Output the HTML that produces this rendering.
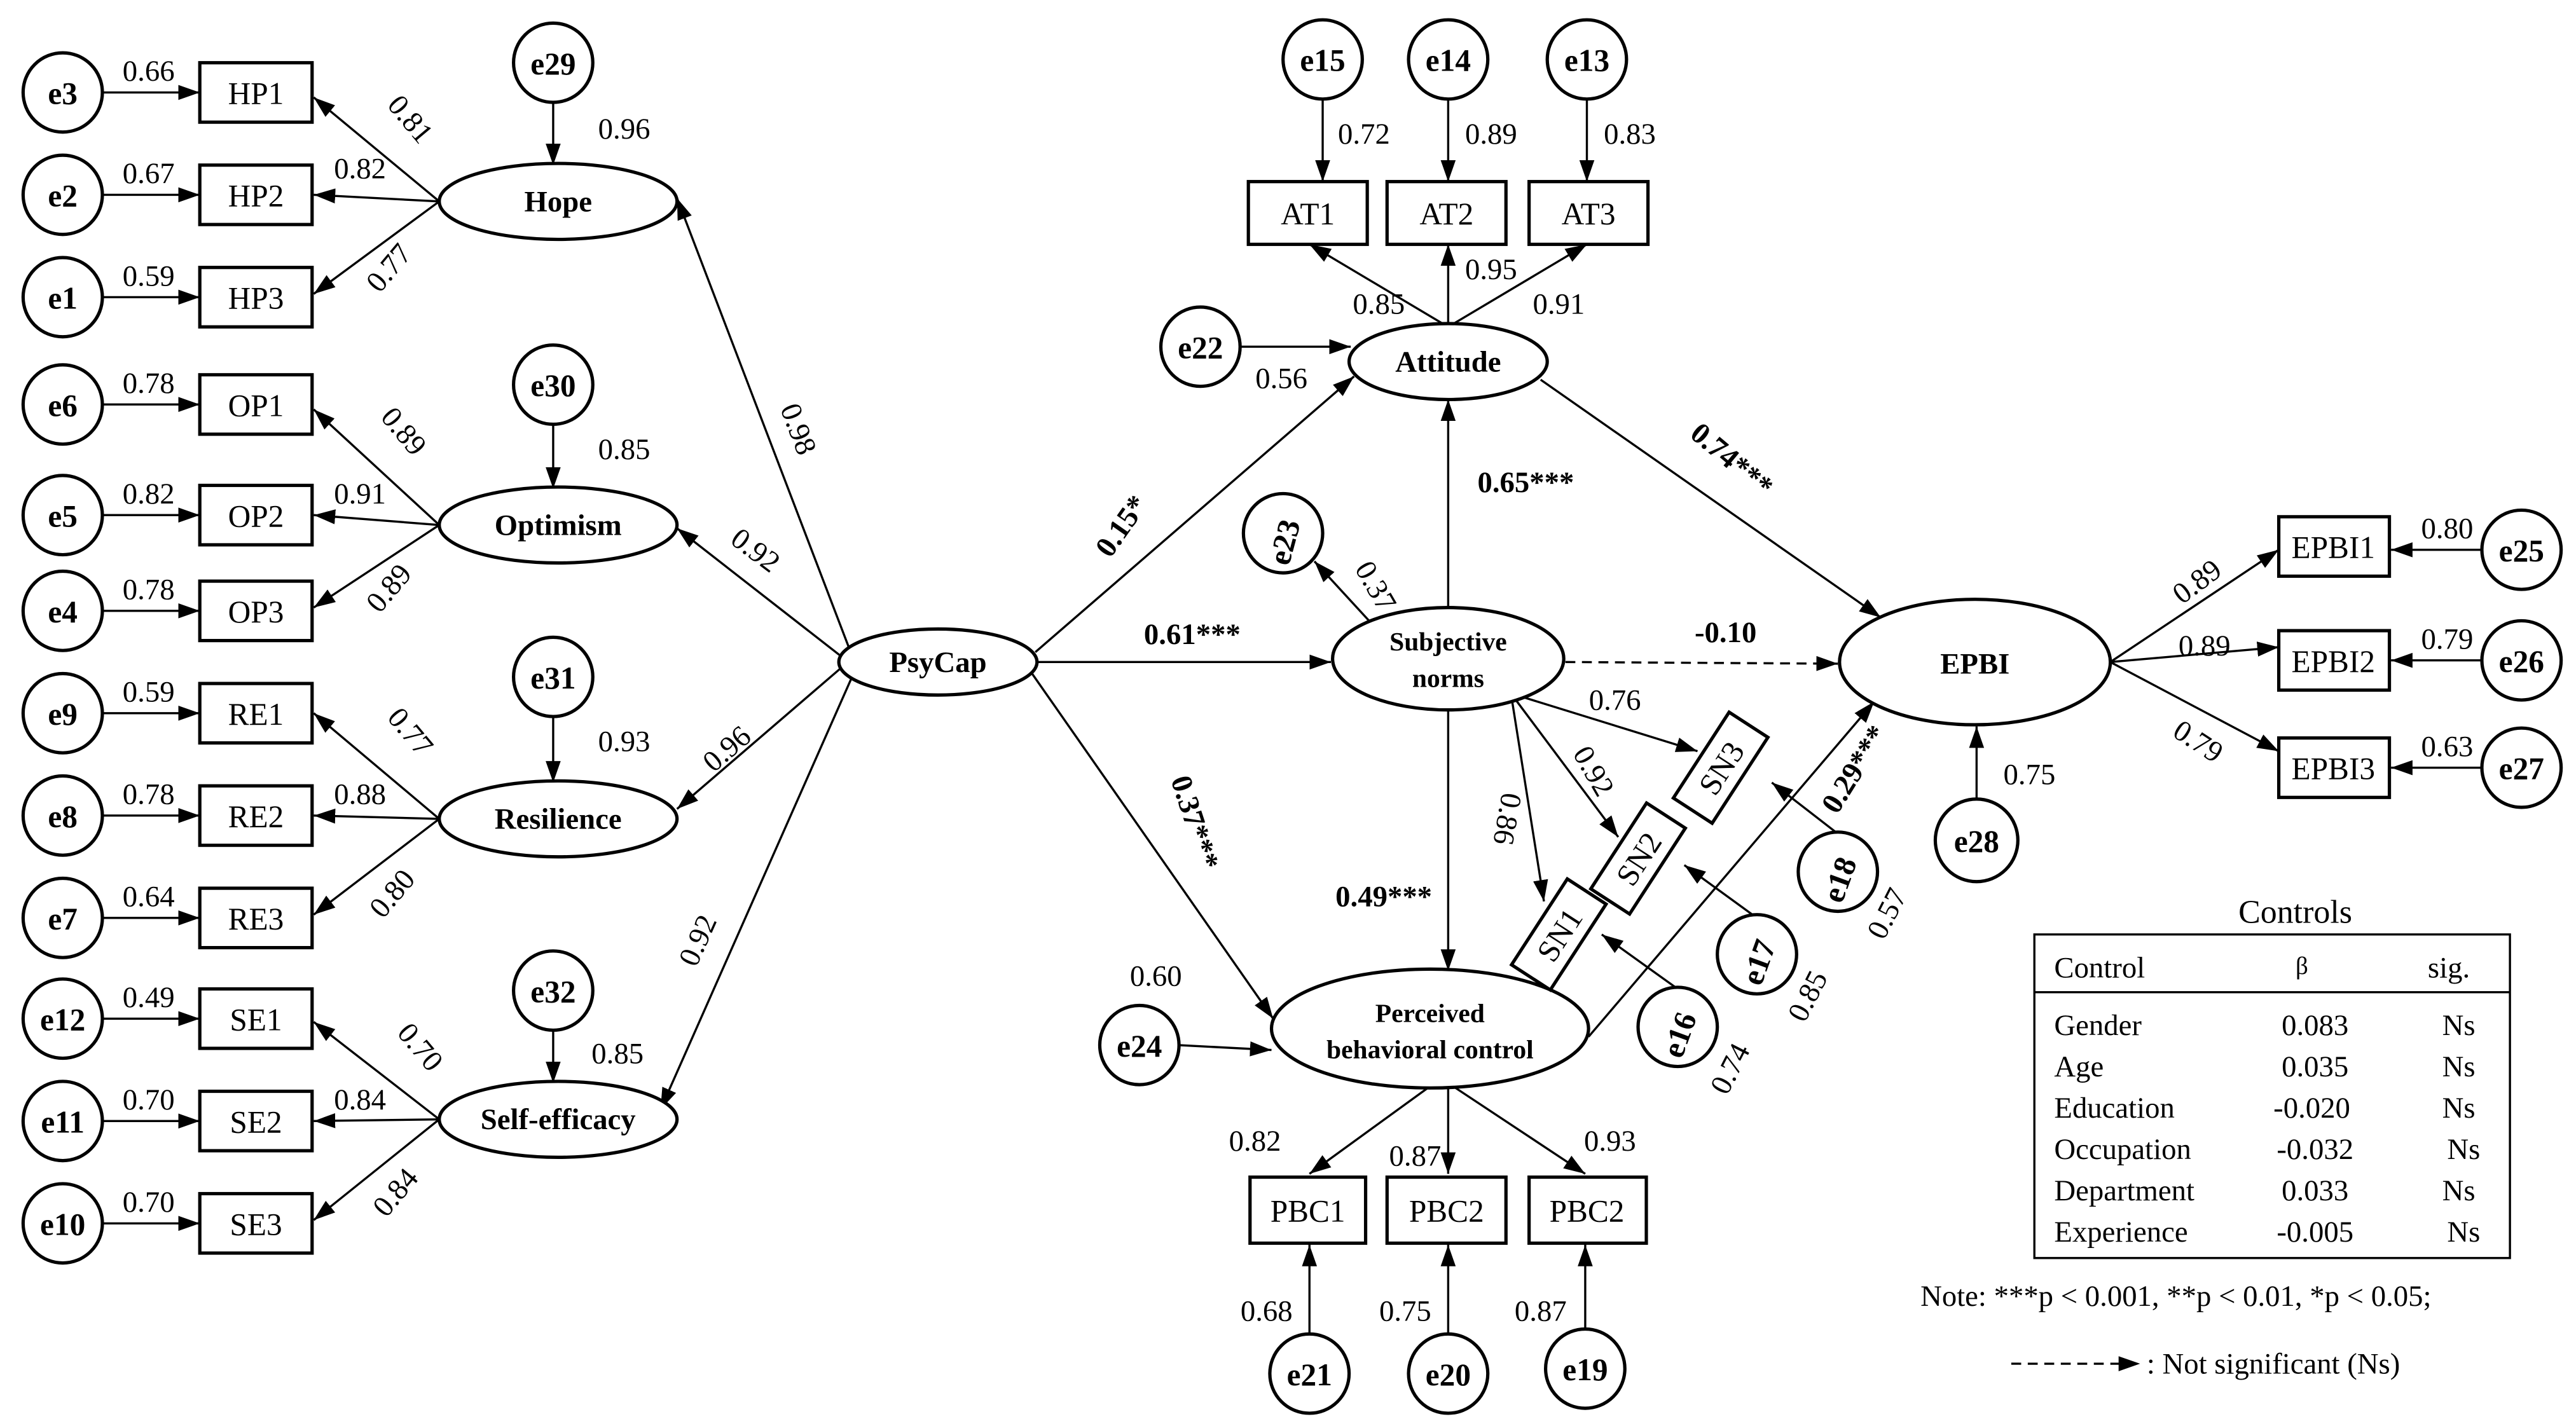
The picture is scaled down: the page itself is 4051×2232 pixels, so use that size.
<!DOCTYPE html>
<html><head><meta charset="utf-8"><style>
html,body{margin:0;padding:0;background:#fff;}
svg{display:block;}
text{font-family:"Liberation Serif",serif;fill:#000;}
</style></head><body>
<svg width="4051" height="2232" viewBox="0 0 1560 859.5" preserveAspectRatio="none" xmlns="http://www.w3.org/2000/svg">
<defs>
<marker id="A" viewBox="0 0 10 10" refX="10" refY="5" markerWidth="13" markerHeight="13" markerUnits="userSpaceOnUse" orient="auto"><path d="M0,1.5 L10,5 L0,8.5 z" fill="#000"/></marker>
</defs>
<rect width="1560" height="860" fill="#fff"/>
<g fill="none" stroke="#000" stroke-width="1.3" marker-end="url(#A)">
<line x1="62" y1="56" x2="121" y2="56"/><line x1="62" y1="118" x2="121" y2="118"/><line x1="62" y1="180" x2="121" y2="180"/>
<line x1="62" y1="245" x2="121" y2="245"/><line x1="62" y1="312" x2="121" y2="312"/><line x1="62" y1="370" x2="121" y2="370"/>
<line x1="62" y1="432" x2="121" y2="432"/><line x1="62" y1="494" x2="121" y2="494"/><line x1="62" y1="556" x2="121" y2="556"/>
<line x1="62" y1="617" x2="121" y2="617"/><line x1="62" y1="679" x2="121" y2="679"/><line x1="62" y1="741" x2="121" y2="741"/>
<line x1="266" y1="122" x2="190" y2="59"/><line x1="266" y1="122" x2="190" y2="118"/><line x1="266" y1="122" x2="190" y2="178"/>
<line x1="266" y1="318" x2="190" y2="248"/><line x1="266" y1="318" x2="190" y2="312"/><line x1="266" y1="318" x2="190" y2="368"/>
<line x1="266" y1="496" x2="190" y2="432"/><line x1="266" y1="496" x2="190" y2="494"/><line x1="266" y1="496" x2="190" y2="554"/>
<line x1="266" y1="678" x2="190" y2="619"/><line x1="266" y1="678" x2="190" y2="679"/><line x1="266" y1="678" x2="190" y2="739"/>
<line x1="335" y1="62" x2="335" y2="100"/><line x1="335" y1="257" x2="335" y2="296"/><line x1="335" y1="434" x2="335" y2="474"/><line x1="335" y1="624" x2="335" y2="656"/>
<line x1="514" y1="392" x2="410" y2="120"/><line x1="510" y1="398" x2="410" y2="320"/><line x1="510" y1="404" x2="410" y2="490"/><line x1="516" y1="410" x2="400" y2="672"/>
<line x1="627" y1="395" x2="820" y2="228"/><line x1="628" y1="401" x2="806" y2="401"/><line x1="625" y1="408" x2="771" y2="617"/>
<line x1="877" y1="198" x2="793" y2="148"/><line x1="877" y1="198" x2="877" y2="148"/><line x1="877" y1="198" x2="961" y2="148"/>
<line x1="801" y1="60" x2="801" y2="110"/><line x1="877" y1="60" x2="877" y2="110"/><line x1="961" y1="60" x2="961" y2="110"/>
<line x1="751" y1="210" x2="818" y2="210"/>
<line x1="877" y1="369" x2="877" y2="242"/>
<line x1="830" y1="377" x2="796" y2="340"/>
<line x1="933" y1="230" x2="1139" y2="374"/>
<line x1="877" y1="429" x2="877" y2="588"/>
<line x1="915" y1="420" x2="935" y2="546"/><line x1="915" y1="420" x2="980" y2="507"/><line x1="915" y1="420" x2="1028" y2="455"/>
<line x1="1113" y1="505" x2="1073" y2="474"/><line x1="1064" y1="556" x2="1020" y2="524"/><line x1="1016" y1="599" x2="970" y2="566"/>
<line x1="962" y1="628" x2="1135" y2="425"/>
<line x1="713" y1="633" x2="770" y2="636"/>
<line x1="866" y1="658" x2="793" y2="711"/><line x1="877" y1="658" x2="877" y2="711"/><line x1="880" y1="658" x2="960" y2="711"/>
<line x1="793" y1="808" x2="793" y2="754"/><line x1="877" y1="808" x2="877" y2="754"/><line x1="960" y1="805" x2="960" y2="754"/>
<line x1="1278" y1="401" x2="1380" y2="333"/><line x1="1278" y1="401" x2="1380" y2="392"/><line x1="1278" y1="401" x2="1380" y2="455"/>
<line x1="1504" y1="333" x2="1448" y2="333"/><line x1="1504" y1="400" x2="1448" y2="400"/><line x1="1504" y1="465" x2="1448" y2="465"/>
<line x1="1197" y1="485" x2="1197" y2="440"/>
<line x1="948" y1="401" x2="1113" y2="402" stroke-dasharray="6,4"/>
<line x1="1218" y1="826" x2="1296" y2="826" stroke-dasharray="6,4"/>
</g>
<g fill="#fff" stroke="#000" stroke-width="2">
<circle cx="38" cy="56" r="24"/><circle cx="38" cy="118" r="24"/><circle cx="38" cy="180" r="24"/>
<circle cx="38" cy="245" r="24"/><circle cx="38" cy="312" r="24"/><circle cx="38" cy="370" r="24"/>
<circle cx="38" cy="432" r="24"/><circle cx="38" cy="494" r="24"/><circle cx="38" cy="556" r="24"/>
<circle cx="38" cy="617" r="24"/><circle cx="38" cy="679" r="24"/><circle cx="38" cy="741" r="24"/>
<rect x="121" y="38" width="68" height="36"/><rect x="121" y="100" width="68" height="36"/><rect x="121" y="162" width="68" height="36"/>
<rect x="121" y="227" width="68" height="36"/><rect x="121" y="294" width="68" height="36"/><rect x="121" y="352" width="68" height="36"/>
<rect x="121" y="414" width="68" height="36"/><rect x="121" y="476" width="68" height="36"/><rect x="121" y="538" width="68" height="36"/>
<rect x="121" y="599" width="68" height="36"/><rect x="121" y="661" width="68" height="36"/><rect x="121" y="723" width="68" height="36"/>
<circle cx="335" cy="38" r="24"/><circle cx="335" cy="233" r="24"/><circle cx="335" cy="410" r="24"/><circle cx="335" cy="600" r="24"/>
<ellipse cx="338" cy="122" rx="72" ry="23"/><ellipse cx="338" cy="318" rx="72" ry="23"/><ellipse cx="338" cy="496" rx="72" ry="23"/><ellipse cx="338" cy="678" rx="72" ry="23"/>
<ellipse cx="568" cy="401" rx="60" ry="20"/>
<circle cx="801" cy="36" r="24"/><circle cx="877" cy="36" r="24"/><circle cx="961" cy="36" r="24"/>
<rect x="756" y="110" width="72" height="38"/><rect x="840" y="110" width="72" height="38"/><rect x="926" y="110" width="72" height="38"/>
<circle cx="727" cy="210" r="24"/>
<ellipse cx="877" cy="219" rx="60" ry="23"/>
<circle cx="777" cy="323" r="24"/>
<ellipse cx="877" cy="399" rx="70" ry="31"/>
<ellipse cx="866" cy="623" rx="96" ry="36"/>
<circle cx="690" cy="633" r="24"/>
<rect x="757" y="713" width="70" height="40"/><rect x="840" y="713" width="72" height="40"/><rect x="926" y="713" width="71" height="40"/>
<circle cx="793" cy="832" r="24"/><circle cx="877" cy="832" r="24"/><circle cx="960" cy="829" r="24"/>
<ellipse cx="1196" cy="401" rx="82" ry="38"/>
<rect x="1380" y="313" width="67" height="36"/><rect x="1380" y="382" width="67" height="36"/><rect x="1380" y="447" width="67" height="36"/>
<circle cx="1527" cy="333" r="24"/><circle cx="1527" cy="400" r="24"/><circle cx="1527" cy="465" r="24"/>
<circle cx="1197" cy="509" r="25"/>
<g transform="translate(1042,465) rotate(-57)"><rect x="-31" y="-14" width="62" height="28"/></g>
<g transform="translate(992,520) rotate(-57)"><rect x="-31" y="-14" width="62" height="28"/></g>
<g transform="translate(944,566) rotate(-57)"><rect x="-31" y="-14" width="62" height="28"/></g>
<circle cx="1113" cy="528" r="24"/><circle cx="1064" cy="578" r="24"/><circle cx="1016" cy="622" r="24"/>
</g>
<g font-size="19" text-anchor="middle" font-weight="bold">
<text x="38" y="63">e3</text><text x="38" y="125">e2</text><text x="38" y="187">e1</text>
<text x="38" y="252">e6</text><text x="38" y="319">e5</text><text x="38" y="377">e4</text>
<text x="38" y="439">e9</text><text x="38" y="501">e8</text><text x="38" y="563">e7</text>
<text x="38" y="624">e12</text><text x="38" y="686">e11</text><text x="38" y="748">e10</text>
<text x="335" y="45">e29</text><text x="335" y="240">e30</text><text x="335" y="417">e31</text><text x="335" y="607">e32</text>
<text x="801" y="43">e15</text><text x="877" y="43">e14</text><text x="961" y="43">e13</text>
<text x="727" y="217">e22</text><text x="690" y="640">e24</text>
<text x="793" y="839">e21</text><text x="877" y="839">e20</text><text x="960" y="836">e19</text>
<text x="1527" y="340">e25</text><text x="1527" y="407">e26</text><text x="1527" y="472">e27</text><text x="1197" y="516">e28</text>
<text transform="translate(784,330) rotate(-75)">e23</text>
<text transform="translate(1120,535) rotate(-70)">e18</text>
<text transform="translate(1071,585) rotate(-70)">e17</text>
<text transform="translate(1023,629) rotate(-70)">e16</text>
</g>
<g font-size="18" text-anchor="middle" font-weight="bold">
<text x="338" y="128">Hope</text><text x="338" y="324">Optimism</text><text x="338" y="502">Resilience</text><text x="338" y="684">Self-efficacy</text>
<text x="568" y="407">PsyCap</text><text x="877" y="225">Attitude</text>
<text x="877" y="394" font-size="16">Subjective</text><text x="877" y="416" font-size="16">norms</text>
<text x="866" y="619" font-size="16">Perceived</text><text x="866" y="641" font-size="16">behavioral control</text>
<text x="1196" y="408">EPBI</text>
</g>
<g font-size="19" text-anchor="middle">
<text x="155" y="63">HP1</text><text x="155" y="125">HP2</text><text x="155" y="187">HP3</text>
<text x="155" y="252">OP1</text><text x="155" y="319">OP2</text><text x="155" y="377">OP3</text>
<text x="155" y="439">RE1</text><text x="155" y="501">RE2</text><text x="155" y="563">RE3</text>
<text x="155" y="624">SE1</text><text x="155" y="686">SE2</text><text x="155" y="748">SE3</text>
<text x="792" y="136">AT1</text><text x="876" y="136">AT2</text><text x="962" y="136">AT3</text>
<text x="792" y="740">PBC1</text><text x="876" y="740">PBC2</text><text x="961" y="740">PBC2</text>
<text x="1413" y="338">EPBI1</text><text x="1413" y="407">EPBI2</text><text x="1413" y="472">EPBI3</text>
<text transform="translate(1042,465) rotate(-57)" y="7">SN3</text>
<text transform="translate(992,520) rotate(-57)" y="7">SN2</text>
<text transform="translate(944,566) rotate(-57)" y="7">SN1</text>
</g>
<g font-size="18" text-anchor="middle">
<text x="90" y="49">0.66</text><text x="90" y="111">0.67</text><text x="90" y="173">0.59</text>
<text x="90" y="238">0.78</text><text x="90" y="305">0.82</text><text x="90" y="363">0.78</text>
<text x="90" y="425">0.59</text><text x="90" y="487">0.78</text><text x="90" y="549">0.64</text>
<text x="90" y="610">0.49</text><text x="90" y="672">0.70</text><text x="90" y="734">0.70</text>
<text transform="translate(244,76) rotate(50)">0.81</text><text x="218" y="108">0.82</text><text transform="translate(240,166) rotate(-50)">0.77</text>
<text transform="translate(240,265) rotate(50)">0.89</text><text x="218" y="305">0.91</text><text transform="translate(240,360) rotate(-50)">0.89</text>
<text transform="translate(244,447) rotate(50)">0.77</text><text x="218" y="487">0.88</text><text transform="translate(242,545) rotate(-50)">0.80</text>
<text transform="translate(250,638) rotate(50)">0.70</text><text x="218" y="672">0.84</text><text transform="translate(244,726) rotate(-50)">0.84</text>
<text x="378" y="84">0.96</text><text x="378" y="278">0.85</text><text x="378" y="455">0.93</text><text x="374" y="644">0.85</text>
<text transform="translate(478,262) rotate(69)">0.98</text>
<text transform="translate(454,338) rotate(37)">0.92</text>
<text transform="translate(444,458) rotate(-41)">0.96</text>
<text transform="translate(428,572) rotate(-66)">0.92</text>
<text x="826" y="87">0.72</text><text x="903" y="87">0.89</text><text x="987" y="87">0.83</text>
<text x="835" y="190">0.85</text><text x="903" y="169">0.95</text><text x="944" y="190">0.91</text>
<text x="776" y="235">0.56</text>
<text transform="translate(828,358) rotate(60)">0.37</text>
<text x="978" y="430">0.76</text>
<text transform="translate(960,470) rotate(60)">0.92</text>
<text transform="translate(907,495) rotate(100)">0.86</text>
<text transform="translate(1148,556) rotate(-63)">0.57</text>
<text transform="translate(1100,606) rotate(-63)">0.85</text>
<text transform="translate(1053,650) rotate(-63)">0.74</text>
<text x="700" y="597">0.60</text>
<text x="760" y="697">0.82</text><text x="857" y="706">0.87</text><text x="975" y="697">0.93</text>
<text x="767" y="800">0.68</text><text x="851" y="800">0.75</text><text x="933" y="800">0.87</text>
<text x="1229" y="475">0.75</text>
<text transform="translate(1334,357) rotate(-37)">0.89</text>
<text x="1335" y="397">0.89</text>
<text transform="translate(1328,454) rotate(33)">0.79</text>
<text x="1482" y="326">0.80</text><text x="1482" y="393">0.79</text><text x="1482" y="458">0.63</text>
</g>
<g font-size="18" text-anchor="middle" font-weight="bold">
<text transform="translate(684,322) rotate(-55)">0.15*</text>
<text x="722" y="390">0.61***</text>
<text x="924" y="298">0.65***</text>
<text transform="translate(1045,283) rotate(40)">0.74***</text>
<text x="1045" y="389">-0.10</text>
<text transform="translate(718,500) rotate(72)">0.37***</text>
<text x="838" y="549">0.49***</text>
<text transform="translate(1128,469) rotate(-58)">0.29***</text>
</g>
<text x="1390" y="559" font-size="20" text-anchor="middle">Controls</text>
<rect x="1232" y="566" width="288" height="196" fill="none" stroke="#000" stroke-width="1.3"/>
<line x1="1232" y1="601" x2="1520" y2="601" stroke="#000" stroke-width="1.3"/>
<g font-size="18">
<text x="1244" y="592">Control</text><text x="1394" y="590" text-anchor="middle" font-size="15">β</text><text x="1483" y="592" text-anchor="middle">sig.</text>
<text x="1244" y="627">Gender</text><text x="1244" y="652">Age</text><text x="1244" y="677">Education</text><text x="1244" y="702">Occupation</text><text x="1244" y="727">Department</text><text x="1244" y="752">Experience</text>
<g text-anchor="middle"><text x="1402" y="627">0.083</text><text x="1402" y="652">0.035</text><text x="1400" y="677">-0.020</text><text x="1402" y="702">-0.032</text><text x="1402" y="727">0.033</text><text x="1402" y="752">-0.005</text>
<text x="1489" y="627">Ns</text><text x="1489" y="652">Ns</text><text x="1489" y="677">Ns</text><text x="1492" y="702">Ns</text><text x="1489" y="727">Ns</text><text x="1492" y="752">Ns</text></g>
<text x="1163" y="791">Note: ***p &lt; 0.001, **p &lt; 0.01, *p &lt; 0.05;</text>
<text x="1300" y="832">: Not significant (Ns)</text>
</g>
</svg>
</body></html>
